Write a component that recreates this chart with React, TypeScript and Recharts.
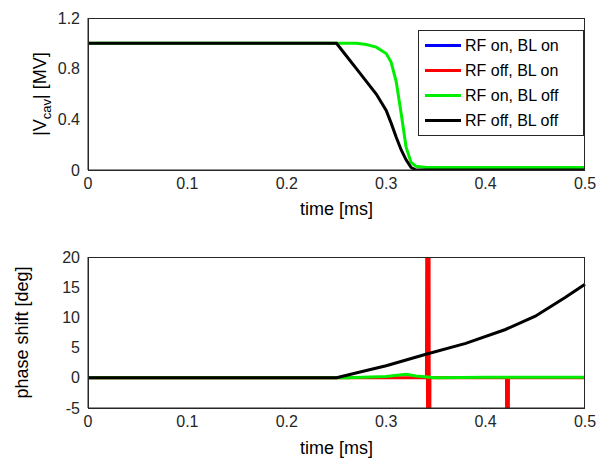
import React from 'react';
import { LineChart, Line, XAxis, YAxis } from 'recharts';

const blackMag = [
  { t: 0, v: 1 }, { t: 0.25, v: 1 }, { t: 0.26, v: 0.9 }, { t: 0.27, v: 0.8 },
  { t: 0.28, v: 0.7 }, { t: 0.29, v: 0.6 }, { t: 0.3, v: 0.47 }, { t: 0.305, v: 0.37 },
  { t: 0.31, v: 0.26 }, { t: 0.315, v: 0.16 }, { t: 0.32, v: 0.08 }, { t: 0.325, v: 0.02 },
  { t: 0.33, v: 0 }, { t: 0.5, v: 0 },
];
const greenMag = [
  { t: 0, v: 1 }, { t: 0.27, v: 1 }, { t: 0.28, v: 0.99 }, { t: 0.29, v: 0.97 },
  { t: 0.3, v: 0.92 }, { t: 0.305, v: 0.85 }, { t: 0.31, v: 0.7 }, { t: 0.315, v: 0.45 },
  { t: 0.32, v: 0.18 }, { t: 0.325, v: 0.06 }, { t: 0.33, v: 0.03 }, { t: 0.34, v: 0.02 },
  { t: 0.5, v: 0.02 },
];
const blackPhase = [
  { t: 0, v: 0 }, { t: 0.25, v: 0 }, { t: 0.28, v: 1.2 }, { t: 0.3, v: 2 },
  { t: 0.34, v: 3.9 }, { t: 0.38, v: 5.7 }, { t: 0.42, v: 8 }, { t: 0.45, v: 10.2 },
  { t: 0.48, v: 13.3 }, { t: 0.5, v: 15.5 },
];
const greenPhase = [
  { t: 0, v: 0 }, { t: 0.26, v: 0 }, { t: 0.3, v: 0.2 }, { t: 0.32, v: 0.6 },
  { t: 0.33, v: 0.3 }, { t: 0.35, v: 0 }, { t: 0.4, v: 0.1 }, { t: 0.45, v: 0.1 },
  { t: 0.5, v: 0.1 },
];
const redPhase = [
  { t: 0, v: 0 }, { t: 0.3405, v: 0 }, { t: 0.341, v: 40 }, { t: 0.342, v: -40 },
  { t: 0.343, v: 40 }, { t: 0.3435, v: -40 }, { t: 0.344, v: 0 }, { t: 0.421, v: 0 },
  { t: 0.4215, v: -40 }, { t: 0.4225, v: -40 }, { t: 0.423, v: 0 }, { t: 0.5, v: 0 },
];
const legendItems = [
  { name: 'RF on, BL on', color: '#0000ff' },
  { name: 'RF off, BL on', color: '#ff0000' },
  { name: 'RF on, BL off', color: '#00ee00' },
  { name: 'RF off, BL off', color: '#000000' },
];
const xTicks = [0, 0.1, 0.2, 0.3, 0.4, 0.5];
const magTicks = [0, 0.4, 0.8, 1.2];
const phaseTicks = [-5, 0, 5, 10, 15, 20];

const font = 'Liberation Sans, Arial, sans-serif';
const tick = { fill: '#262626', fontSize: 16, fontFamily: font };
const ax = '#262626';

const LegendBox = () => (
  <div style={{ position: 'absolute', left: 418, top: 30, width: 152, border: '1px solid #262626', background: '#fff', padding: '2px 6px', fontFamily: font, fontSize: 16 }}>
    {legendItems.map((l) => (
      <div key={l.name} style={{ display: 'flex', alignItems: 'center', height: 25, whiteSpace: 'nowrap' }}>
        <span style={{ width: 36, height: 3, background: l.color, marginRight: 4, flexShrink: 0 }} />
        <span style={{ color: '#000' }}>{l.name}</span>
      </div>
    ))}
  </div>
);

const MagLabel = ({ viewBox }: any) => {
  const cx = 46;
  const cy = viewBox.y + viewBox.height / 2;
  return (
    <text x={cx} y={cy} transform={`rotate(-90 ${cx} ${cy})`} textAnchor="middle" fontSize={18} fontFamily={font} fill="#000">
      |V<tspan fontSize={13} dy={5}>cav</tspan><tspan dy={-5}>| [MV]</tspan>
    </text>
  );
};

const Box = ({ top, height }: any) => (
  <div style={{ position: 'absolute', left: 88, top, width: 497, height, border: '1px solid #262626', boxSizing: 'border-box', pointerEvents: 'none' }} />
);

export default function App() {
  const margin = { top: 18, right: 30, left: 0, bottom: 0 };
  return (
    <div style={{ position: 'absolute', left: 0, top: 0, width: 615, height: 473, background: '#fff' }}>
      <LineChart width={615} height={232} margin={margin}>
        <XAxis type="number" dataKey="t" domain={[0, 0.5]} ticks={xTicks} tick={tick} tickLine={false} stroke={ax} height={62} allowDuplicatedCategory={false}
          label={{ value: 'time [ms]', position: 'insideBottom', offset: 17, fontSize: 18, fontFamily: font, fill: '#000' }} />
        <YAxis type="number" domain={[0, 1.2]} ticks={magTicks} tick={tick} tickLine={false} stroke={ax} width={88} allowDataOverflow label={<MagLabel />} />
        <Line data={greenMag} dataKey="v" stroke="#00ee00" strokeWidth={3} dot={false} isAnimationActive={false} />
        <Line data={blackMag} dataKey="v" stroke="#000" strokeWidth={3} dot={false} isAnimationActive={false} />
      </LineChart>
      <Box top={18} height={153} />
      <LegendBox />
      <div style={{ position: 'absolute', top: 236, left: 0 }}>
        <LineChart width={615} height={237} margin={{ ...margin, top: 21 }}>
          <XAxis type="number" dataKey="t" domain={[0, 0.5]} ticks={xTicks} tick={tick} tickLine={false} stroke={ax} height={65} allowDuplicatedCategory={false}
            label={{ value: 'time [ms]', position: 'insideBottom', offset: 19, fontSize: 18, fontFamily: font, fill: '#000' }} />
          <YAxis type="number" domain={[-5, 20]} ticks={phaseTicks} tick={tick} tickLine={false} stroke={ax} width={88} allowDataOverflow
            label={{ value: 'phase shift [deg]', angle: -90, position: 'insideLeft', offset: 22, fontSize: 18, fontFamily: font, fill: '#000', style: { textAnchor: 'middle' } }} />
          <Line data={redPhase} dataKey="v" stroke="#ff0000" strokeWidth={3} dot={false} isAnimationActive={false} />
          <Line data={greenPhase} dataKey="v" stroke="#00ee00" strokeWidth={3} dot={false} isAnimationActive={false} />
          <Line data={blackPhase} dataKey="v" stroke="#000" strokeWidth={3} dot={false} isAnimationActive={false} />
        </LineChart>
      </div>
      <Box top={257} height={152} />
    </div>
  );
}
